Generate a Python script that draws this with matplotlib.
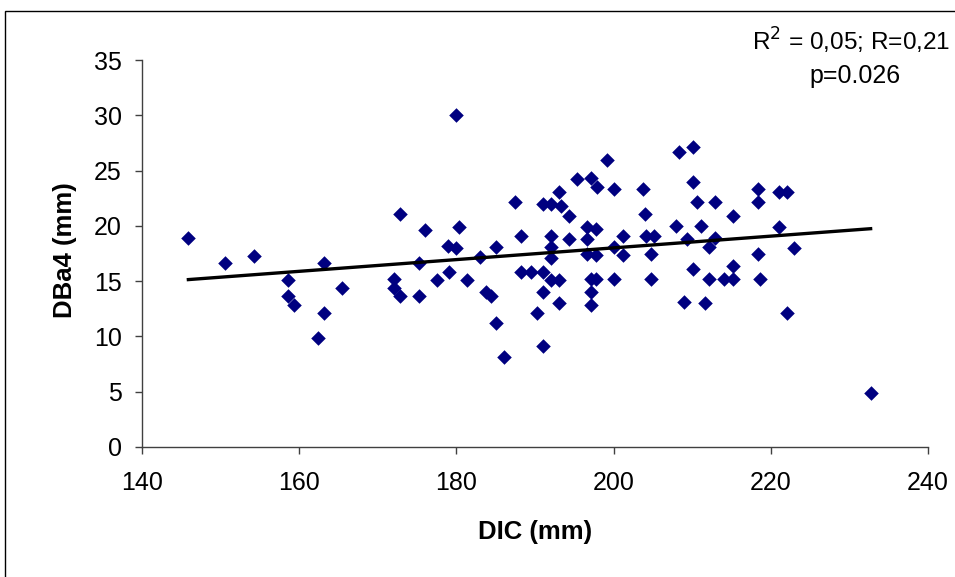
"""Scatter of DBa4 against DIC with a linear trend line."""
import numpy as np
import matplotlib
matplotlib.use("Agg")
from matplotlib import pyplot as plt
from matplotlib.patches import Rectangle

plt.rcParams["font.family"] = ["Liberation Sans", "DejaVu Sans"]

dic_mm = [
    145.9, 150.5, 154.2, 158.6, 158.6, 159.4, 163.2, 163.2, 162.4, 165.5,
    172.8, 172.1, 172.1, 172.8, 180.0, 176.0, 180.3, 178.9, 180.0, 175.2,
    183.0, 185.1, 175.2, 177.5, 179.0, 181.3, 183.8, 184.4, 185.1, 186.1,
    187.4, 188.2, 188.2, 189.5, 191.0, 191.0, 192.0, 193.3, 193.0, 194.3,
    195.4, 192.0, 194.3, 192.0, 192.0, 192.0, 193.0, 191.0, 193.0, 190.2,
    191.0, 199.1, 197.1, 197.9, 200.1, 203.7, 208.3, 210.1, 210.1, 210.6,
    212.9, 218.4, 218.4, 204.0, 215.2, 196.6, 197.8, 196.6, 201.2, 204.1,
    205.1, 208.0, 211.1, 209.3, 212.9, 212.1, 200.1, 196.6, 197.8, 201.2,
    204.7, 210.1, 215.2, 197.1, 197.8, 200.1, 204.7, 212.1, 214.1, 215.2,
    218.6, 218.4, 197.1, 197.1, 209.0, 211.6, 221.0, 222.1, 221.0, 223.0,
    222.0, 232.7,
]
dba4_mm = [
    18.9, 16.6, 17.3, 15.1, 13.7, 12.8, 16.6, 12.1, 9.9, 14.4,
    21.1, 15.2, 14.4, 13.7, 30.0, 19.65, 19.9, 18.2, 18.0, 16.6,
    17.15, 18.05, 13.65, 15.1, 15.85, 15.1, 14.05, 13.65, 11.2, 8.1,
    22.2, 19.1, 15.85, 15.85, 15.85, 22.0, 22.0, 21.8, 23.1, 20.9,
    24.2, 19.1, 18.8, 18.1, 17.05, 15.1, 15.1, 14.05, 13.0, 12.1,
    9.15, 26.0, 24.3, 23.5, 23.3, 23.3, 26.7, 27.1, 24.0, 22.2,
    22.2, 23.3, 22.2, 21.1, 20.9, 19.9, 19.7, 18.8, 19.1, 19.1,
    19.1, 20.0, 20.0, 18.8, 18.9, 18.05, 18.1, 17.5, 17.4, 17.4,
    17.5, 16.1, 16.4, 15.2, 15.2, 15.2, 15.2, 15.2, 15.2, 15.2,
    15.2, 17.5, 14.05, 12.8, 13.1, 13.0, 23.1, 23.1, 19.9, 18.0,
    12.1, 4.85,
]
x_ticks = [140, 160, 180, 200, 220, 240]
y_ticks = [0, 5, 10, 15, 20, 25, 30, 35]
r_text = "R$^2$ = 0,05; R=0,21"
p_text = "p=0.026"

x = np.asarray(dic_mm)
y = np.asarray(dba4_mm)
slope, intercept = np.polyfit(x, y, 1)
line_x = np.array([x.min(), x.max()])

W, H = 955, 577
fig = plt.figure(figsize=(W / 100, H / 100), dpi=100)
ax = fig.add_axes([142 / W, 130 / H, 786 / W, 387 / H])

# chart-area border, cropped on the right and bottom
fig.patches.append(Rectangle((5 / W, -0.1), 1.1, (H - 11) / H + 0.1,
                             transform=fig.transFigure, fill=False,
                             edgecolor="black", linewidth=1.0))

ax.scatter(x, y, marker="D", s=55, color="#000080", linewidths=0, zorder=3)
ax.plot(line_x, intercept + slope * line_x, color="black", linewidth=2.4, zorder=4)

ax.set_xlim(140, 240)
ax.set_ylim(0, 35)
ax.set_xticks(x_ticks)
ax.set_yticks(y_ticks)
ax.tick_params(axis="both", direction="out", length=5, width=1, labelsize=18,
               color="#404040", pad=9.5)
ax.tick_params(axis="x", pad=12)
for side in ("top", "right"):
    ax.spines[side].set_visible(False)
for side in ("left", "bottom"):
    ax.spines[side].set_color("#404040")
    ax.spines[side].set_linewidth(1.0)

ax.set_xlabel("DIC (mm)", fontsize=18.5, fontweight="bold", va="center")
ax.xaxis.set_label_coords(0.5, (447 - 531.5) / 387)
ax.set_ylabel("DBa4 (mm)", fontsize=18.5, fontweight="bold", va="center")
ax.yaxis.set_label_coords((65 - 142) / 786, 0.51)

# the reference crops this line at the right edge; keep it just inside
fig.text(851 / W, 1 - 51 / H, r_text, ha="center", va="baseline", fontsize=17.6)
fig.text(855 / W, 1 - 83 / H, p_text, ha="center", va="baseline", fontsize=18)

fig.savefig("out.png", dpi=100)
